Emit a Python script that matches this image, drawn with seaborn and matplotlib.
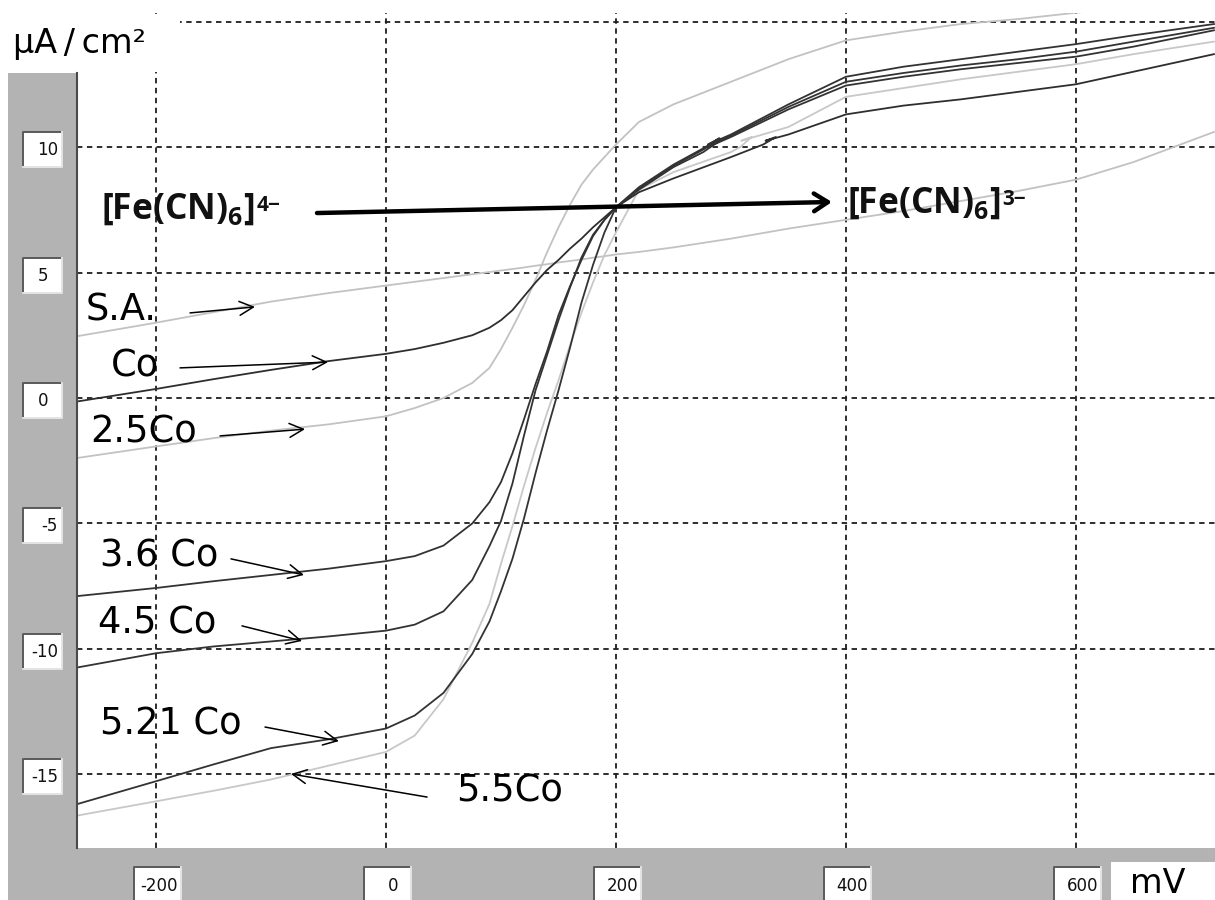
import numpy as np
import pandas as pd
import matplotlib
matplotlib.use("Agg")
import matplotlib.pyplot as plt
import seaborn as sns
from matplotlib.patches import Rectangle
from matplotlib.lines import Line2D

# ---------------- data ----------------
# shared sweep, -270 ... 250 mV
potential_mV = [-270, -200, -150, -100, -50, 0, 25, 50, 75, 90, 100, 110, 120, 130, 140,
                150, 160, 170, 180, 190, 200, 220, 250]

i_SA = [2.45, 3.0, 3.42, 3.84, 4.18, 4.48, 4.63, 4.78, 4.93, 5.02, 5.08, 5.14, 5.2, 5.27, 5.33,
        5.4, 5.46, 5.52, 5.59, 5.65, 5.72, 5.82, 6.0]
i_Co = [-0.15, 0.36, 0.75, 1.12, 1.47, 1.76, 1.95, 2.2, 2.5, 2.8, 3.1, 3.5, 4.05, 4.6, 5.1,
        5.5, 5.95, 6.35, 6.8, 7.2, 7.6, 8.2, 8.75]
i_25Co = [-2.4, -1.93, -1.6, -1.3, -1.05, -0.73, -0.4, 0.0, 0.6, 1.2, 1.95, 2.8, 3.7, 4.7, 5.8,
          6.8, 7.7, 8.5, 9.1, 9.6, 10.1, 11.0, 11.7]
i_36Co = [-7.9, -7.57, -7.3, -7.05, -6.8, -6.5, -6.3, -5.88, -5.0, -4.15, -3.35, -2.2, -0.85, 0.55, 1.85,
          3.3, 4.45, 5.5, 6.45, 7.1, 7.6, 8.3, 9.2]
i_45Co = [-10.75, -10.17, -9.9, -9.7, -9.5, -9.27, -9.03, -8.5, -7.25, -5.9, -4.9, -3.4, -1.5, 0.3, 1.7,
          3.1, 4.4, 5.6, 6.5, 7.1, 7.6, 8.4, 9.3]
i_521Co = [-16.2, -15.27, -14.6, -13.95, -13.6, -13.17, -12.65, -11.75, -10.2, -8.9, -7.7, -6.4, -4.8, -3.0, -1.3,
           0.3, 2.0, 3.8, 5.3, 6.6, 7.6, 8.35, 9.25]
i_55Co = [-16.65, -16.07, -15.65, -15.2, -14.65, -14.1, -13.45, -12.0, -9.75, -8.2, -6.6, -5.1, -3.5, -2.0, -0.6,
          0.7, 2.1, 3.4, 4.6, 5.7, 6.6, 8.3, 9.0]

# anodic ends of the sweeps (with the small instrument back-steps)
tail_E_plain = [300, 350, 400, 450, 500, 550, 600, 650, 720]
tail_SA = [6.35, 6.75, 7.1, 7.45, 7.85, 8.25, 8.7, 9.4, 10.6]
tail_25Co = [12.6, 13.5, 14.25, 14.6, 14.9, 15.1, 15.35, 15.6, 16.0]

tail_E_bundle = [276, 290, 280, 300, 350, 400, 450, 500, 550, 600, 650, 720]
tail_36Co = [9.8, 10.25, 10.0, 10.4, 11.5, 12.45, 12.8, 13.1, 13.35, 13.6, 14.0, 14.65]
tail_45Co = [9.95, 10.35, 10.1, 10.5, 11.7, 12.8, 13.2, 13.5, 13.8, 14.1, 14.45, 14.9]
tail_521Co = [9.9, 10.3, 10.05, 10.45, 11.6, 12.6, 12.95, 13.25, 13.5, 13.8, 14.2, 14.75]

tail_E_Co = [300, 328, 339, 330, 350, 400, 450, 500, 550, 600, 650, 720]
tail_Co = [9.6, 10.1, 10.4, 10.25, 10.5, 11.3, 11.65, 11.9, 12.2, 12.5, 13.0, 13.7]

tail_E_55 = [300, 308, 318, 309, 350, 400, 450, 500, 550, 600, 650, 720]
tail_55Co = [9.8, 10.0, 10.4, 10.25, 10.8, 12.0, 12.35, 12.7, 13.0, 13.3, 13.7, 14.2]

samples = ["S.A.", "2.5Co", "5.5Co", "Co", "3.6 Co", "4.5 Co", "5.21 Co"]
heads = [i_SA, i_25Co, i_55Co, i_Co, i_36Co, i_45Co, i_521Co]
tails_E = [tail_E_plain, tail_E_plain, tail_E_55, tail_E_Co, tail_E_bundle, tail_E_bundle, tail_E_bundle]
tails_I = [tail_SA, tail_25Co, tail_55Co, tail_Co, tail_36Co, tail_45Co, tail_521Co]
colors = ["#c2c2c2", "#c2c2c2", "#c8c8c8", "#2e2e2e", "#333333", "#333333", "#333333"]

x_ticks = [-200, 0, 200, 400, 600]
y_ticks = [-15, -10, -5, 0, 5, 10, 15]
y_tick_labels = [-15, -10, -5, 0, 5, 10]

# label texts, anchor (mV, uA/cm2 baseline), arrow tail, arrow head
label_texts = ["S.A.", "Co", "2.5Co", "3.6 Co", "4.5 Co", "5.21 Co", "5.5Co"]
label_pos = [(-260.9, 3.07), (-239.1, 0.84), (-257.4, -1.79), (-248.7, -6.73),
             (-250.4, -9.40), (-248.7, -13.39), (60.9, -16.06)]
arrow_tail = [(-170.4, 3.39), (-179.1, 1.20), (-144.3, -1.51), (-134.8, -6.41),
              (-125.2, -9.08), (-105.2, -13.11), (35.7, -15.90)]
arrow_head = [(-113.9, 3.63), (-50.4, 1.43), (-70.4, -1.24), (-71.3, -7.05),
              (-73.0, -9.68), (-40.9, -13.67), (-82.6, -14.98)]

# ---------------- figure ----------------
W, H = 1215, 900
plt.rcParams["mathtext.fontset"] = "custom"
plt.rcParams["mathtext.rm"] = "Open Sans"
plt.rcParams["mathtext.default"] = "regular"

fig = plt.figure(figsize=(W / 100, H / 100), dpi=100)
fig.patch.set_facecolor("white")
ax = fig.add_axes([77 / W, 52 / H, (W - 77) / W, 835 / H])
ax.set_facecolor("white")

rows = []
for s, head, tE, tI in zip(samples, heads, tails_E, tails_I):
    k = 0
    for e, i in zip(list(potential_mV) + list(tE), list(head) + list(tI)):
        rows.append((s, k, e, i))
        k += 1
df = pd.DataFrame(rows, columns=["sample", "order", "E", "I"])

sns.lineplot(data=df, x="E", y="I", hue="sample", hue_order=samples,
             palette=dict(zip(samples, colors)), estimator=None, sort=False,
             legend=False, linewidth=1.3, ax=ax, zorder=3)

ax.set_xlim(-268.7, 720.9)
ax.set_ylim(-17.93, 15.34)
ax.set_xticks(x_ticks)
ax.set_yticks(y_ticks)
ax.tick_params(length=0, labelleft=False, labelbottom=False)
ax.set_xlabel("")
ax.set_ylabel("")
ax.grid(True, color="#1e1e1e", linestyle=(0, (3, 2.5)), linewidth=1.3)
ax.set_axisbelow(True)
for sp in ax.spines.values():
    sp.set_visible(False)

# curve labels with thin arrows
for t, p, a, b in zip(label_texts, label_pos, arrow_tail, arrow_head):
    ax.text(p[0], p[1], t, fontsize=26.5, family="DejaVu Sans", ha="left", va="baseline",
            color="black", zorder=5)
    ax.annotate("", xy=b, xytext=a,
                arrowprops=dict(arrowstyle="->,head_length=0.5,head_width=0.25", lw=1.1,
                                color="black", shrinkA=0, shrinkB=0, mutation_scale=20),
                zorder=5)

# Fe(CN)6 arrow and texts
ax.annotate("", xy=(387.8, 7.81), xytext=(-60.0, 7.37),
            arrowprops=dict(arrowstyle="->,head_length=0.5,head_width=0.32", lw=3.2,
                            color="black", shrinkA=0, shrinkB=0, mutation_scale=20),
            zorder=6)
fe4 = ax.text(-247.8, 7.13, r"[Fe(CN)$_6$]", fontsize=25.5, family="Open Sans",
              fontweight="bold", ha="left", va="baseline", color="#111111", zorder=6)
fe3 = ax.text(400.9, 7.37, r"[Fe(CN)$_6$]", fontsize=25.5, family="Open Sans",
              fontweight="bold", ha="left", va="baseline", color="#111111", zorder=6)
for t, sup in ((fe4, "4\u2212"), (fe3, "3\u2212")):
    ax.annotate(sup, xy=(1, 1), xycoords=t, xytext=(1.5, -2.0), textcoords="offset points",
                ha="left", va="top", fontsize=15, family="Open Sans", fontweight="bold",
                color="#111111", zorder=6)


# ---------------- window chrome ----------------
def fx(x):
    return x / W


def fy(y):
    return 1 - y / H


def rect(x0, y0, x1, y1, color, z=1):
    fig.add_artist(Rectangle((fx(x0), fy(y1)), fx(x1) - fx(x0), fy(y0) - fy(y1),
                             transform=fig.transFigure, facecolor=color, edgecolor="none",
                             zorder=z))


def sunken_box(x0, y0, w, h):
    rect(x0, y0, x0 + w, y0 + h, "white", z=2)
    fig.add_artist(Line2D([fx(x0), fx(x0), fx(x0 + w)], [fy(y0 + h), fy(y0), fy(y0)],
                          transform=fig.transFigure, color="#5a5a5a", lw=1.4, zorder=3))
    fig.add_artist(Line2D([fx(x0), fx(x0 + w), fx(x0 + w)], [fy(y0 + h), fy(y0 + h), fy(y0)],
                          transform=fig.transFigure, color="#e4e4e4", lw=1.4, zorder=3))


GRAY = "#b3b3b3"
rect(8, 73, 77, 900, GRAY)
rect(8, 848, W, 900, GRAY)
rect(1111, 862, W, 900, "white", z=2)
rect(77, 14, 180, 72, "white", z=1)
fig.add_artist(Line2D([fx(77), fx(77)], [fy(73), fy(848)], transform=fig.transFigure,
                      color="#4a4a4a", lw=1.5, zorder=2))


def to_px(xv, yv):
    dx, dy = ax.transData.transform((xv, yv))
    return dx, H - dy


for v in y_tick_labels:
    _, py = to_px(0, v)
    sunken_box(23, py - 15, 39, 35)
    lab = str(v)
    if len(lab) == 1:
        fig.text(fx(43), fy(py + 3), lab, ha="center", va="center", fontsize=12,
                 family="DejaVu Sans", color="#111111", zorder=4)
    else:
        fig.text(fx(58), fy(py + 3), lab, ha="right", va="center", fontsize=12,
                 family="DejaVu Sans", color="#111111", zorder=4)

for v in x_ticks:
    px, _ = to_px(v, 0)
    sunken_box(px - 22, 867, 47, 40)
    lab = str(v)
    if len(lab) == 1:
        fig.text(fx(px + 7), fy(886), lab, ha="center", va="center", fontsize=12,
                 family="DejaVu Sans", color="#111111", zorder=4)
    else:
        fig.text(fx(px + 22), fy(886), lab, ha="right", va="center", fontsize=12,
                 family="DejaVu Sans", color="#111111", zorder=4)

fig.text(fx(13), fy(53), "μA\u2009/\u2009cm²", fontsize=24, family="DejaVu Sans",
         ha="left", va="baseline", color="black", zorder=4)
fig.text(fx(1130), fy(893), "mV", fontsize=24, family="DejaVu Sans",
         ha="left", va="baseline", color="black", zorder=4)

fig.savefig("out.png", dpi=100, facecolor="white")
